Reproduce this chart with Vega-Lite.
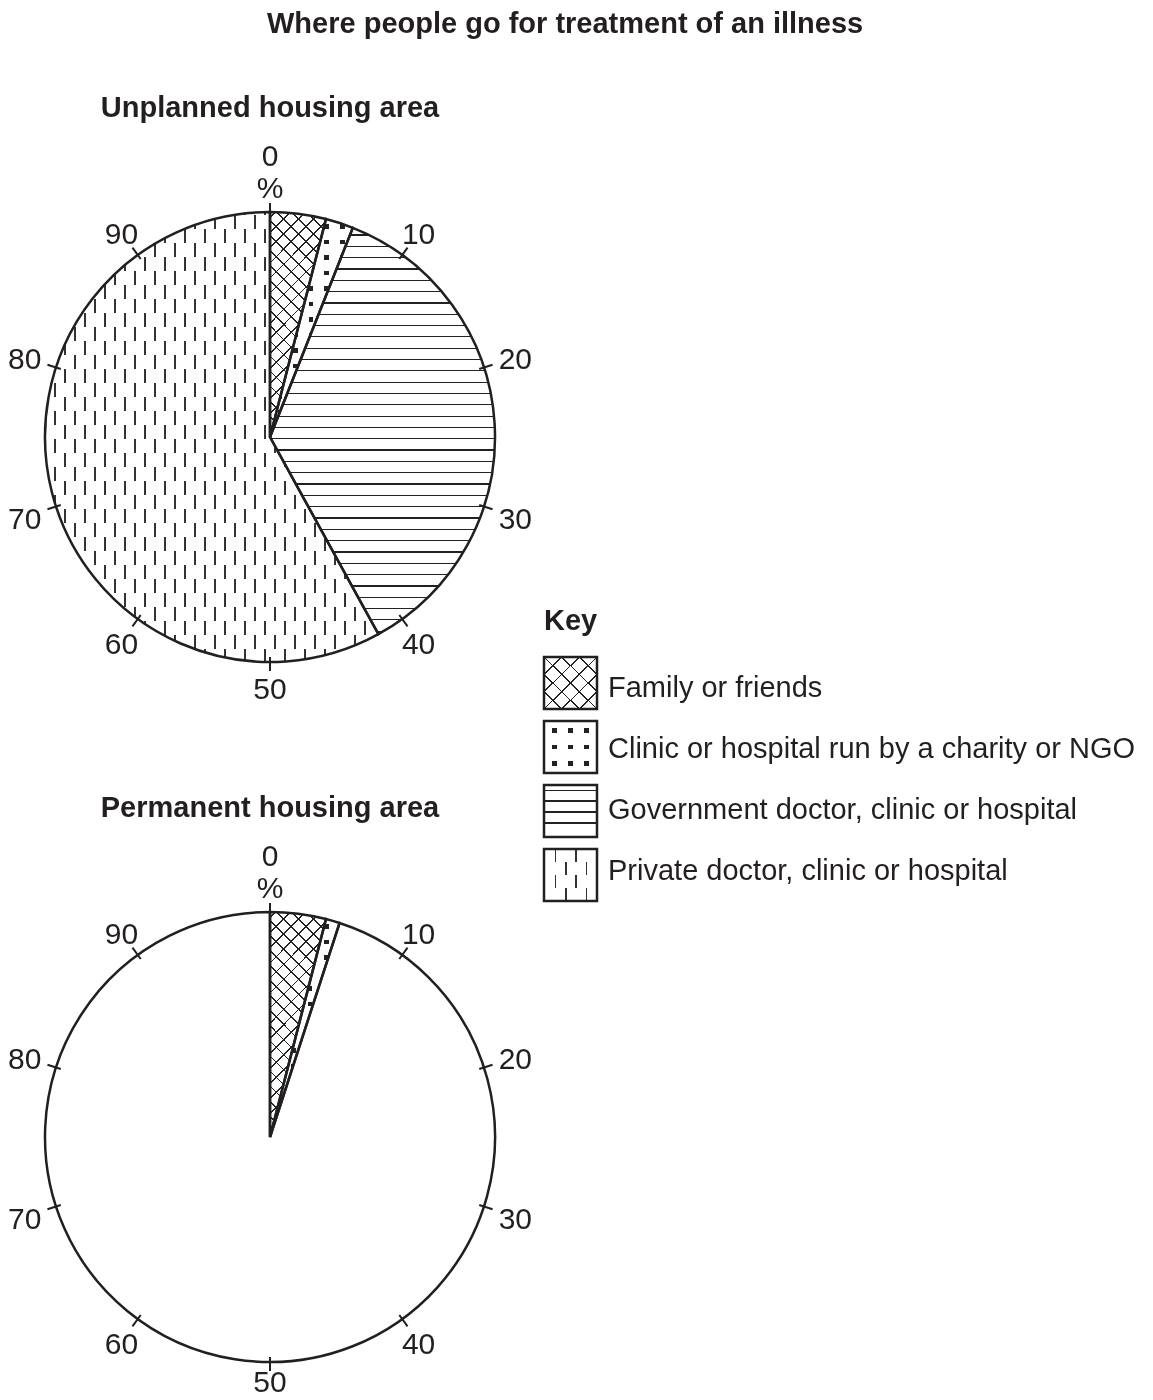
{
"$schema":"https://vega.github.io/schema/vega-lite/v6.json",
"background":"white",
"padding":{"left":0,"top":10,"right":0,"bottom":0},
"config":{"view":{"stroke":null},"font":"Liberation Sans","text":{"font":"Liberation Sans"},"title":{"font":"Liberation Sans","fontSize":29,"fontWeight":"bold","color":"#231f20"}},
"title":{"text":"Where people go for treatment of an illness","anchor":"start","frame":"group","dx":267,"offset":55},
"datasets":{
"unplanned":[{"category":"Family or friends","start":0,"end":4},{"category":"Clinic or hospital run by a charity or NGO","start":4,"end":6},{"category":"Government doctor, clinic or hospital","start":6,"end":42},{"category":"Private doctor, clinic or hospital","start":42,"end":100}],
"permanent":[{"category":"Family or friends","start":0,"end":4},{"category":"Clinic or hospital run by a charity or NGO","start":4,"end":5},{"category":"Not shown","start":5,"end":100}],
"ticks":[{"pct":0,"label":"0"},{"pct":10,"label":"10"},{"pct":20,"label":"20"},{"pct":30,"label":"30"},{"pct":40,"label":"40"},{"pct":50,"label":"50"},{"pct":60,"label":"60"},{"pct":70,"label":"70"},{"pct":80,"label":"80"},{"pct":90,"label":"90"}],
"unit":[{"pct":0,"label":"%"}],
"keyitems":[{"category":"Family or friends"},{"category":"Clinic or hospital run by a charity or NGO"},{"category":"Government doctor, clinic or hospital"},{"category":"Private doctor, clinic or hospital"}]
},
"bounds":"flush",
"spacing":544,
"hconcat":[
{"vconcat":[
{"width":540,"height":450,"title":{"text":"Unplanned housing area","anchor":"middle","frame":"group","offset":19},
"layer":[
{"data":{"name":"unplanned"},"transform":[{"filter":"datum.category == 'Family or friends'"}],"mark":{"type":"arc","radius":225,"fill":{"gradient":"linear","x1":0,"y1":1,"x2":0.3,"y2":-0.2,"stops":[{"offset":0,"color":"#fff"},{"offset":0.017,"color":"#fff"},{"offset":0.017,"color":"#222"},{"offset":0.023,"color":"#222"},{"offset":0.023,"color":"#fff"},{"offset":0.0695,"color":"#fff"},{"offset":0.0695,"color":"#222"},{"offset":0.0755,"color":"#222"},{"offset":0.0755,"color":"#fff"},{"offset":0.122,"color":"#fff"},{"offset":0.122,"color":"#222"},{"offset":0.128,"color":"#222"},{"offset":0.128,"color":"#fff"},{"offset":0.1745,"color":"#fff"},{"offset":0.1745,"color":"#222"},{"offset":0.1805,"color":"#222"},{"offset":0.1805,"color":"#fff"},{"offset":0.227,"color":"#fff"},{"offset":0.227,"color":"#222"},{"offset":0.233,"color":"#222"},{"offset":0.233,"color":"#fff"},{"offset":0.2795,"color":"#fff"},{"offset":0.2795,"color":"#222"},{"offset":0.2855,"color":"#222"},{"offset":0.2855,"color":"#fff"},{"offset":0.332,"color":"#fff"},{"offset":0.332,"color":"#222"},{"offset":0.338,"color":"#222"},{"offset":0.338,"color":"#fff"},{"offset":0.3845,"color":"#fff"},{"offset":0.3845,"color":"#222"},{"offset":0.3905,"color":"#222"},{"offset":0.3905,"color":"#fff"},{"offset":0.437,"color":"#fff"},{"offset":0.437,"color":"#222"},{"offset":0.443,"color":"#222"},{"offset":0.443,"color":"#fff"},{"offset":0.4895,"color":"#fff"},{"offset":0.4895,"color":"#222"},{"offset":0.4955,"color":"#222"},{"offset":0.4955,"color":"#fff"},{"offset":0.542,"color":"#fff"},{"offset":0.542,"color":"#222"},{"offset":0.548,"color":"#222"},{"offset":0.548,"color":"#fff"},{"offset":0.5945,"color":"#fff"},{"offset":0.5945,"color":"#222"},{"offset":0.6005,"color":"#222"},{"offset":0.6005,"color":"#fff"},{"offset":0.647,"color":"#fff"},{"offset":0.647,"color":"#222"},{"offset":0.653,"color":"#222"},{"offset":0.653,"color":"#fff"},{"offset":0.6995,"color":"#fff"},{"offset":0.6995,"color":"#222"},{"offset":0.7055,"color":"#222"},{"offset":0.7055,"color":"#fff"},{"offset":0.752,"color":"#fff"},{"offset":0.752,"color":"#222"},{"offset":0.758,"color":"#222"},{"offset":0.758,"color":"#fff"},{"offset":0.8045,"color":"#fff"},{"offset":0.8045,"color":"#222"},{"offset":0.8105,"color":"#222"},{"offset":0.8105,"color":"#fff"},{"offset":0.857,"color":"#fff"},{"offset":0.857,"color":"#222"},{"offset":0.863,"color":"#222"},{"offset":0.863,"color":"#fff"},{"offset":0.9095,"color":"#fff"},{"offset":0.9095,"color":"#222"},{"offset":0.9155,"color":"#222"},{"offset":0.9155,"color":"#fff"},{"offset":0.962,"color":"#fff"},{"offset":0.962,"color":"#222"},{"offset":0.968,"color":"#222"},{"offset":0.968,"color":"#fff"},{"offset":1,"color":"#fff"}]}},"encoding":{"theta":{"field":"start","type":"quantitative","stack":null,"scale":{"domain":[0,100],"range":[0,6.283185307179586]}},"theta2":{"field":"end"}}},
{"data":{"name":"unplanned"},"transform":[{"filter":"datum.category == 'Family or friends'"}],"mark":{"type":"arc","radius":225,"fill":{"gradient":"linear","x1":0,"y1":0,"x2":0.3,"y2":1.2,"stops":[{"offset":0,"color":"rgba(0,0,0,0)"},{"offset":0.017,"color":"rgba(0,0,0,0)"},{"offset":0.017,"color":"#222"},{"offset":0.023,"color":"#222"},{"offset":0.023,"color":"rgba(0,0,0,0)"},{"offset":0.0695,"color":"rgba(0,0,0,0)"},{"offset":0.0695,"color":"#222"},{"offset":0.0755,"color":"#222"},{"offset":0.0755,"color":"rgba(0,0,0,0)"},{"offset":0.122,"color":"rgba(0,0,0,0)"},{"offset":0.122,"color":"#222"},{"offset":0.128,"color":"#222"},{"offset":0.128,"color":"rgba(0,0,0,0)"},{"offset":0.1745,"color":"rgba(0,0,0,0)"},{"offset":0.1745,"color":"#222"},{"offset":0.1805,"color":"#222"},{"offset":0.1805,"color":"rgba(0,0,0,0)"},{"offset":0.227,"color":"rgba(0,0,0,0)"},{"offset":0.227,"color":"#222"},{"offset":0.233,"color":"#222"},{"offset":0.233,"color":"rgba(0,0,0,0)"},{"offset":0.2795,"color":"rgba(0,0,0,0)"},{"offset":0.2795,"color":"#222"},{"offset":0.2855,"color":"#222"},{"offset":0.2855,"color":"rgba(0,0,0,0)"},{"offset":0.332,"color":"rgba(0,0,0,0)"},{"offset":0.332,"color":"#222"},{"offset":0.338,"color":"#222"},{"offset":0.338,"color":"rgba(0,0,0,0)"},{"offset":0.3845,"color":"rgba(0,0,0,0)"},{"offset":0.3845,"color":"#222"},{"offset":0.3905,"color":"#222"},{"offset":0.3905,"color":"rgba(0,0,0,0)"},{"offset":0.437,"color":"rgba(0,0,0,0)"},{"offset":0.437,"color":"#222"},{"offset":0.443,"color":"#222"},{"offset":0.443,"color":"rgba(0,0,0,0)"},{"offset":0.4895,"color":"rgba(0,0,0,0)"},{"offset":0.4895,"color":"#222"},{"offset":0.4955,"color":"#222"},{"offset":0.4955,"color":"rgba(0,0,0,0)"},{"offset":0.542,"color":"rgba(0,0,0,0)"},{"offset":0.542,"color":"#222"},{"offset":0.548,"color":"#222"},{"offset":0.548,"color":"rgba(0,0,0,0)"},{"offset":0.5945,"color":"rgba(0,0,0,0)"},{"offset":0.5945,"color":"#222"},{"offset":0.6005,"color":"#222"},{"offset":0.6005,"color":"rgba(0,0,0,0)"},{"offset":0.647,"color":"rgba(0,0,0,0)"},{"offset":0.647,"color":"#222"},{"offset":0.653,"color":"#222"},{"offset":0.653,"color":"rgba(0,0,0,0)"},{"offset":0.6995,"color":"rgba(0,0,0,0)"},{"offset":0.6995,"color":"#222"},{"offset":0.7055,"color":"#222"},{"offset":0.7055,"color":"rgba(0,0,0,0)"},{"offset":0.752,"color":"rgba(0,0,0,0)"},{"offset":0.752,"color":"#222"},{"offset":0.758,"color":"#222"},{"offset":0.758,"color":"rgba(0,0,0,0)"},{"offset":0.8045,"color":"rgba(0,0,0,0)"},{"offset":0.8045,"color":"#222"},{"offset":0.8105,"color":"#222"},{"offset":0.8105,"color":"rgba(0,0,0,0)"},{"offset":0.857,"color":"rgba(0,0,0,0)"},{"offset":0.857,"color":"#222"},{"offset":0.863,"color":"#222"},{"offset":0.863,"color":"rgba(0,0,0,0)"},{"offset":0.9095,"color":"rgba(0,0,0,0)"},{"offset":0.9095,"color":"#222"},{"offset":0.9155,"color":"#222"},{"offset":0.9155,"color":"rgba(0,0,0,0)"},{"offset":0.962,"color":"rgba(0,0,0,0)"},{"offset":0.962,"color":"#222"},{"offset":0.968,"color":"#222"},{"offset":0.968,"color":"rgba(0,0,0,0)"},{"offset":1,"color":"rgba(0,0,0,0)"}]}},"encoding":{"theta":{"field":"start","type":"quantitative","stack":null,"scale":{"domain":[0,100],"range":[0,6.283185307179586]}},"theta2":{"field":"end"}}},
{"data":{"name":"unplanned"},"transform":[{"filter":"datum.category == 'Clinic or hospital run by a charity or NGO'"}],"mark":{"type":"arc","radius":225,"fill":{"gradient":"linear","x1":0,"y1":0,"x2":1,"y2":0,"stops":[{"offset":0,"color":"#fff"},{"offset":0.0924,"color":"#fff"},{"offset":0.0924,"color":"#222"},{"offset":0.1468,"color":"#222"},{"offset":0.1468,"color":"#fff"},{"offset":0.2808,"color":"#fff"},{"offset":0.2808,"color":"#222"},{"offset":0.3352,"color":"#222"},{"offset":0.3352,"color":"#fff"},{"offset":0.4692,"color":"#fff"},{"offset":0.4692,"color":"#222"},{"offset":0.5236,"color":"#222"},{"offset":0.5236,"color":"#fff"},{"offset":0.6576,"color":"#fff"},{"offset":0.6576,"color":"#222"},{"offset":0.712,"color":"#222"},{"offset":0.712,"color":"#fff"},{"offset":0.846,"color":"#fff"},{"offset":0.846,"color":"#222"},{"offset":0.9004,"color":"#222"},{"offset":0.9004,"color":"#fff"},{"offset":1,"color":"#fff"}]}},"encoding":{"theta":{"field":"start","type":"quantitative","stack":null,"scale":{"domain":[0,100],"range":[0,6.283185307179586]}},"theta2":{"field":"end"}}},
{"data":{"name":"unplanned"},"transform":[{"filter":"datum.category == 'Clinic or hospital run by a charity or NGO'"}],"mark":{"type":"arc","radius":225,"blend":"lighten","fill":{"gradient":"linear","x1":0,"y1":0,"x2":0,"y2":1,"stops":[{"offset":0,"color":"#fff"},{"offset":0.0246,"color":"#fff"},{"offset":0.0246,"color":"#000"},{"offset":0.0452,"color":"#000"},{"offset":0.0452,"color":"#fff"},{"offset":0.0957,"color":"#fff"},{"offset":0.0957,"color":"#000"},{"offset":0.1163,"color":"#000"},{"offset":0.1163,"color":"#fff"},{"offset":0.1668,"color":"#fff"},{"offset":0.1668,"color":"#000"},{"offset":0.1874,"color":"#000"},{"offset":0.1874,"color":"#fff"},{"offset":0.238,"color":"#fff"},{"offset":0.238,"color":"#000"},{"offset":0.2586,"color":"#000"},{"offset":0.2586,"color":"#fff"},{"offset":0.3091,"color":"#fff"},{"offset":0.3091,"color":"#000"},{"offset":0.3297,"color":"#000"},{"offset":0.3297,"color":"#fff"},{"offset":0.3802,"color":"#fff"},{"offset":0.3802,"color":"#000"},{"offset":0.4008,"color":"#000"},{"offset":0.4008,"color":"#fff"},{"offset":0.4514,"color":"#fff"},{"offset":0.4514,"color":"#000"},{"offset":0.472,"color":"#000"},{"offset":0.472,"color":"#fff"},{"offset":0.5225,"color":"#fff"},{"offset":0.5225,"color":"#000"},{"offset":0.5431,"color":"#000"},{"offset":0.5431,"color":"#fff"},{"offset":0.5936,"color":"#fff"},{"offset":0.5936,"color":"#000"},{"offset":0.6142,"color":"#000"},{"offset":0.6142,"color":"#fff"},{"offset":0.6648,"color":"#fff"},{"offset":0.6648,"color":"#000"},{"offset":0.6854,"color":"#000"},{"offset":0.6854,"color":"#fff"},{"offset":0.7359,"color":"#fff"},{"offset":0.7359,"color":"#000"},{"offset":0.7565,"color":"#000"},{"offset":0.7565,"color":"#fff"},{"offset":0.807,"color":"#fff"},{"offset":0.807,"color":"#000"},{"offset":0.8276,"color":"#000"},{"offset":0.8276,"color":"#fff"},{"offset":0.8782,"color":"#fff"},{"offset":0.8782,"color":"#000"},{"offset":0.8988,"color":"#000"},{"offset":0.8988,"color":"#fff"},{"offset":0.9493,"color":"#fff"},{"offset":0.9493,"color":"#000"},{"offset":0.9699,"color":"#000"},{"offset":0.9699,"color":"#fff"},{"offset":1,"color":"#fff"}]}},"encoding":{"theta":{"field":"start","type":"quantitative","stack":null,"scale":{"domain":[0,100],"range":[0,6.283185307179586]}},"theta2":{"field":"end"}}},
{"data":{"name":"unplanned"},"transform":[{"filter":"datum.category == 'Government doctor, clinic or hospital'"}],"mark":{"type":"arc","radius":225,"fill":{"gradient":"linear","x1":0,"y1":0,"x2":0,"y2":1,"stops":[{"offset":0,"color":"#fff"},{"offset":0.0162,"color":"#fff"},{"offset":0.0162,"color":"#222"},{"offset":0.0192,"color":"#222"},{"offset":0.0192,"color":"#fff"},{"offset":0.0441,"color":"#fff"},{"offset":0.0441,"color":"#222"},{"offset":0.0471,"color":"#222"},{"offset":0.0471,"color":"#fff"},{"offset":0.0719,"color":"#fff"},{"offset":0.0719,"color":"#222"},{"offset":0.0749,"color":"#222"},{"offset":0.0749,"color":"#fff"},{"offset":0.0998,"color":"#fff"},{"offset":0.0998,"color":"#222"},{"offset":0.1028,"color":"#222"},{"offset":0.1028,"color":"#fff"},{"offset":0.1276,"color":"#fff"},{"offset":0.1276,"color":"#222"},{"offset":0.1306,"color":"#222"},{"offset":0.1306,"color":"#fff"},{"offset":0.1555,"color":"#fff"},{"offset":0.1555,"color":"#222"},{"offset":0.1585,"color":"#222"},{"offset":0.1585,"color":"#fff"},{"offset":0.1833,"color":"#fff"},{"offset":0.1833,"color":"#222"},{"offset":0.1863,"color":"#222"},{"offset":0.1863,"color":"#fff"},{"offset":0.2112,"color":"#fff"},{"offset":0.2112,"color":"#222"},{"offset":0.2142,"color":"#222"},{"offset":0.2142,"color":"#fff"},{"offset":0.2391,"color":"#fff"},{"offset":0.2391,"color":"#222"},{"offset":0.2421,"color":"#222"},{"offset":0.2421,"color":"#fff"},{"offset":0.2669,"color":"#fff"},{"offset":0.2669,"color":"#222"},{"offset":0.2699,"color":"#222"},{"offset":0.2699,"color":"#fff"},{"offset":0.2948,"color":"#fff"},{"offset":0.2948,"color":"#222"},{"offset":0.2978,"color":"#222"},{"offset":0.2978,"color":"#fff"},{"offset":0.3226,"color":"#fff"},{"offset":0.3226,"color":"#222"},{"offset":0.3256,"color":"#222"},{"offset":0.3256,"color":"#fff"},{"offset":0.3505,"color":"#fff"},{"offset":0.3505,"color":"#222"},{"offset":0.3535,"color":"#222"},{"offset":0.3535,"color":"#fff"},{"offset":0.3783,"color":"#fff"},{"offset":0.3783,"color":"#222"},{"offset":0.3813,"color":"#222"},{"offset":0.3813,"color":"#fff"},{"offset":0.4062,"color":"#fff"},{"offset":0.4062,"color":"#222"},{"offset":0.4092,"color":"#222"},{"offset":0.4092,"color":"#fff"},{"offset":0.434,"color":"#fff"},{"offset":0.434,"color":"#222"},{"offset":0.437,"color":"#222"},{"offset":0.437,"color":"#fff"},{"offset":0.4619,"color":"#fff"},{"offset":0.4619,"color":"#222"},{"offset":0.4649,"color":"#222"},{"offset":0.4649,"color":"#fff"},{"offset":0.4897,"color":"#fff"},{"offset":0.4897,"color":"#222"},{"offset":0.4927,"color":"#222"},{"offset":0.4927,"color":"#fff"},{"offset":0.5176,"color":"#fff"},{"offset":0.5176,"color":"#222"},{"offset":0.5206,"color":"#222"},{"offset":0.5206,"color":"#fff"},{"offset":0.5455,"color":"#fff"},{"offset":0.5455,"color":"#222"},{"offset":0.5485,"color":"#222"},{"offset":0.5485,"color":"#fff"},{"offset":0.5733,"color":"#fff"},{"offset":0.5733,"color":"#222"},{"offset":0.5763,"color":"#222"},{"offset":0.5763,"color":"#fff"},{"offset":0.6012,"color":"#fff"},{"offset":0.6012,"color":"#222"},{"offset":0.6042,"color":"#222"},{"offset":0.6042,"color":"#fff"},{"offset":0.629,"color":"#fff"},{"offset":0.629,"color":"#222"},{"offset":0.632,"color":"#222"},{"offset":0.632,"color":"#fff"},{"offset":0.6569,"color":"#fff"},{"offset":0.6569,"color":"#222"},{"offset":0.6599,"color":"#222"},{"offset":0.6599,"color":"#fff"},{"offset":0.6847,"color":"#fff"},{"offset":0.6847,"color":"#222"},{"offset":0.6877,"color":"#222"},{"offset":0.6877,"color":"#fff"},{"offset":0.7126,"color":"#fff"},{"offset":0.7126,"color":"#222"},{"offset":0.7156,"color":"#222"},{"offset":0.7156,"color":"#fff"},{"offset":0.7404,"color":"#fff"},{"offset":0.7404,"color":"#222"},{"offset":0.7434,"color":"#222"},{"offset":0.7434,"color":"#fff"},{"offset":0.7683,"color":"#fff"},{"offset":0.7683,"color":"#222"},{"offset":0.7713,"color":"#222"},{"offset":0.7713,"color":"#fff"},{"offset":0.7961,"color":"#fff"},{"offset":0.7961,"color":"#222"},{"offset":0.7991,"color":"#222"},{"offset":0.7991,"color":"#fff"},{"offset":0.824,"color":"#fff"},{"offset":0.824,"color":"#222"},{"offset":0.827,"color":"#222"},{"offset":0.827,"color":"#fff"},{"offset":0.8519,"color":"#fff"},{"offset":0.8519,"color":"#222"},{"offset":0.8549,"color":"#222"},{"offset":0.8549,"color":"#fff"},{"offset":0.8797,"color":"#fff"},{"offset":0.8797,"color":"#222"},{"offset":0.8827,"color":"#222"},{"offset":0.8827,"color":"#fff"},{"offset":0.9076,"color":"#fff"},{"offset":0.9076,"color":"#222"},{"offset":0.9106,"color":"#222"},{"offset":0.9106,"color":"#fff"},{"offset":0.9354,"color":"#fff"},{"offset":0.9354,"color":"#222"},{"offset":0.9384,"color":"#222"},{"offset":0.9384,"color":"#fff"},{"offset":0.9633,"color":"#fff"},{"offset":0.9633,"color":"#222"},{"offset":0.9663,"color":"#222"},{"offset":0.9663,"color":"#fff"},{"offset":0.9911,"color":"#fff"},{"offset":0.9911,"color":"#222"},{"offset":0.9941,"color":"#222"},{"offset":0.9941,"color":"#fff"},{"offset":1,"color":"#fff"}]}},"encoding":{"theta":{"field":"start","type":"quantitative","stack":null,"scale":{"domain":[0,100],"range":[0,6.283185307179586]}},"theta2":{"field":"end"}}},
{"data":{"name":"unplanned"},"transform":[{"filter":"datum.category == 'Private doctor, clinic or hospital'"}],"mark":{"type":"arc","radius":225,"fill":{"gradient":"linear","x1":0,"y1":0,"x2":0,"y2":1,"stops":[{"offset":0,"color":"#000"},{"offset":0.0067,"color":"#000"},{"offset":0.0067,"color":"#fff"},{"offset":0.0378,"color":"#fff"},{"offset":0.0378,"color":"#000"},{"offset":0.0689,"color":"#000"},{"offset":0.0689,"color":"#fff"},{"offset":0.1,"color":"#fff"},{"offset":0.1,"color":"#000"},{"offset":0.1311,"color":"#000"},{"offset":0.1311,"color":"#fff"},{"offset":0.1622,"color":"#fff"},{"offset":0.1622,"color":"#000"},{"offset":0.1933,"color":"#000"},{"offset":0.1933,"color":"#fff"},{"offset":0.2244,"color":"#fff"},{"offset":0.2244,"color":"#000"},{"offset":0.2556,"color":"#000"},{"offset":0.2556,"color":"#fff"},{"offset":0.2867,"color":"#fff"},{"offset":0.2867,"color":"#000"},{"offset":0.3178,"color":"#000"},{"offset":0.3178,"color":"#fff"},{"offset":0.3489,"color":"#fff"},{"offset":0.3489,"color":"#000"},{"offset":0.38,"color":"#000"},{"offset":0.38,"color":"#fff"},{"offset":0.4111,"color":"#fff"},{"offset":0.4111,"color":"#000"},{"offset":0.4422,"color":"#000"},{"offset":0.4422,"color":"#fff"},{"offset":0.4733,"color":"#fff"},{"offset":0.4733,"color":"#000"},{"offset":0.5044,"color":"#000"},{"offset":0.5044,"color":"#fff"},{"offset":0.5356,"color":"#fff"},{"offset":0.5356,"color":"#000"},{"offset":0.5667,"color":"#000"},{"offset":0.5667,"color":"#fff"},{"offset":0.5978,"color":"#fff"},{"offset":0.5978,"color":"#000"},{"offset":0.6289,"color":"#000"},{"offset":0.6289,"color":"#fff"},{"offset":0.66,"color":"#fff"},{"offset":0.66,"color":"#000"},{"offset":0.6911,"color":"#000"},{"offset":0.6911,"color":"#fff"},{"offset":0.7222,"color":"#fff"},{"offset":0.7222,"color":"#000"},{"offset":0.7533,"color":"#000"},{"offset":0.7533,"color":"#fff"},{"offset":0.7844,"color":"#fff"},{"offset":0.7844,"color":"#000"},{"offset":0.8156,"color":"#000"},{"offset":0.8156,"color":"#fff"},{"offset":0.8467,"color":"#fff"},{"offset":0.8467,"color":"#000"},{"offset":0.8778,"color":"#000"},{"offset":0.8778,"color":"#fff"},{"offset":0.9089,"color":"#fff"},{"offset":0.9089,"color":"#000"},{"offset":0.94,"color":"#000"},{"offset":0.94,"color":"#fff"},{"offset":0.9711,"color":"#fff"},{"offset":0.9711,"color":"#000"},{"offset":1,"color":"#000"}]}},"encoding":{"theta":{"field":"start","type":"quantitative","stack":null,"scale":{"domain":[0,100],"range":[0,6.283185307179586]}},"theta2":{"field":"end"}}},
{"data":{"name":"unplanned"},"transform":[{"filter":"datum.category == 'Private doctor, clinic or hospital'"}],"mark":{"type":"arc","radius":225,"blend":"difference","fill":{"gradient":"linear","x1":0,"y1":0,"x2":1,"y2":0,"stops":[{"offset":0,"color":"#000"},{"offset":0.015,"color":"#000"},{"offset":0.015,"color":"#fff"},{"offset":0.045,"color":"#fff"},{"offset":0.045,"color":"#000"},{"offset":0.075,"color":"#000"},{"offset":0.075,"color":"#fff"},{"offset":0.105,"color":"#fff"},{"offset":0.105,"color":"#000"},{"offset":0.135,"color":"#000"},{"offset":0.135,"color":"#fff"},{"offset":0.165,"color":"#fff"},{"offset":0.165,"color":"#000"},{"offset":0.195,"color":"#000"},{"offset":0.195,"color":"#fff"},{"offset":0.225,"color":"#fff"},{"offset":0.225,"color":"#000"},{"offset":0.2549,"color":"#000"},{"offset":0.2549,"color":"#fff"},{"offset":0.2849,"color":"#fff"},{"offset":0.2849,"color":"#000"},{"offset":0.3149,"color":"#000"},{"offset":0.3149,"color":"#fff"},{"offset":0.3449,"color":"#fff"},{"offset":0.3449,"color":"#000"},{"offset":0.3749,"color":"#000"},{"offset":0.3749,"color":"#fff"},{"offset":0.4049,"color":"#fff"},{"offset":0.4049,"color":"#000"},{"offset":0.4349,"color":"#000"},{"offset":0.4349,"color":"#fff"},{"offset":0.4649,"color":"#fff"},{"offset":0.4649,"color":"#000"},{"offset":0.4949,"color":"#000"},{"offset":0.4949,"color":"#fff"},{"offset":0.5249,"color":"#fff"},{"offset":0.5249,"color":"#000"},{"offset":0.5549,"color":"#000"},{"offset":0.5549,"color":"#fff"},{"offset":0.5849,"color":"#fff"},{"offset":0.5849,"color":"#000"},{"offset":0.6149,"color":"#000"},{"offset":0.6149,"color":"#fff"},{"offset":0.6449,"color":"#fff"},{"offset":0.6449,"color":"#000"},{"offset":0.6749,"color":"#000"},{"offset":0.6749,"color":"#fff"},{"offset":0.7049,"color":"#fff"},{"offset":0.7049,"color":"#000"},{"offset":0.7349,"color":"#000"},{"offset":0.7349,"color":"#fff"},{"offset":0.7648,"color":"#fff"},{"offset":0.7648,"color":"#000"},{"offset":0.7948,"color":"#000"},{"offset":0.7948,"color":"#fff"},{"offset":0.8248,"color":"#fff"},{"offset":0.8248,"color":"#000"},{"offset":0.8548,"color":"#000"},{"offset":0.8548,"color":"#fff"},{"offset":0.8848,"color":"#fff"},{"offset":0.8848,"color":"#000"},{"offset":0.9148,"color":"#000"},{"offset":0.9148,"color":"#fff"},{"offset":0.9448,"color":"#fff"},{"offset":0.9448,"color":"#000"},{"offset":0.9748,"color":"#000"},{"offset":0.9748,"color":"#fff"},{"offset":1,"color":"#fff"}]}},"encoding":{"theta":{"field":"start","type":"quantitative","stack":null,"scale":{"domain":[0,100],"range":[0,6.283185307179586]}},"theta2":{"field":"end"}}},
{"data":{"name":"unplanned"},"transform":[{"filter":"datum.category == 'Private doctor, clinic or hospital'"}],"mark":{"type":"arc","radius":225,"blend":"lighten","fill":{"gradient":"linear","x1":0,"y1":0,"x2":1,"y2":0,"stops":[{"offset":0,"color":"#fff"},{"offset":0.0279,"color":"#fff"},{"offset":0.0279,"color":"#333"},{"offset":0.0321,"color":"#333"},{"offset":0.0321,"color":"#fff"},{"offset":0.0579,"color":"#fff"},{"offset":0.0579,"color":"#333"},{"offset":0.0621,"color":"#333"},{"offset":0.0621,"color":"#fff"},{"offset":0.0879,"color":"#fff"},{"offset":0.0879,"color":"#333"},{"offset":0.0921,"color":"#333"},{"offset":0.0921,"color":"#fff"},{"offset":0.1179,"color":"#fff"},{"offset":0.1179,"color":"#333"},{"offset":0.1221,"color":"#333"},{"offset":0.1221,"color":"#fff"},{"offset":0.1479,"color":"#fff"},{"offset":0.1479,"color":"#333"},{"offset":0.1521,"color":"#333"},{"offset":0.1521,"color":"#fff"},{"offset":0.1779,"color":"#fff"},{"offset":0.1779,"color":"#333"},{"offset":0.1821,"color":"#333"},{"offset":0.1821,"color":"#fff"},{"offset":0.2079,"color":"#fff"},{"offset":0.2079,"color":"#333"},{"offset":0.2121,"color":"#333"},{"offset":0.2121,"color":"#fff"},{"offset":0.2379,"color":"#fff"},{"offset":0.2379,"color":"#333"},{"offset":0.2421,"color":"#333"},{"offset":0.2421,"color":"#fff"},{"offset":0.2678,"color":"#fff"},{"offset":0.2678,"color":"#333"},{"offset":0.272,"color":"#333"},{"offset":0.272,"color":"#fff"},{"offset":0.2978,"color":"#fff"},{"offset":0.2978,"color":"#333"},{"offset":0.302,"color":"#333"},{"offset":0.302,"color":"#fff"},{"offset":0.3278,"color":"#fff"},{"offset":0.3278,"color":"#333"},{"offset":0.332,"color":"#333"},{"offset":0.332,"color":"#fff"},{"offset":0.3578,"color":"#fff"},{"offset":0.3578,"color":"#333"},{"offset":0.362,"color":"#333"},{"offset":0.362,"color":"#fff"},{"offset":0.3878,"color":"#fff"},{"offset":0.3878,"color":"#333"},{"offset":0.392,"color":"#333"},{"offset":0.392,"color":"#fff"},{"offset":0.4178,"color":"#fff"},{"offset":0.4178,"color":"#333"},{"offset":0.422,"color":"#333"},{"offset":0.422,"color":"#fff"},{"offset":0.4478,"color":"#fff"},{"offset":0.4478,"color":"#333"},{"offset":0.452,"color":"#333"},{"offset":0.452,"color":"#fff"},{"offset":0.4778,"color":"#fff"},{"offset":0.4778,"color":"#333"},{"offset":0.482,"color":"#333"},{"offset":0.482,"color":"#fff"},{"offset":0.5078,"color":"#fff"},{"offset":0.5078,"color":"#333"},{"offset":0.512,"color":"#333"},{"offset":0.512,"color":"#fff"},{"offset":0.5378,"color":"#fff"},{"offset":0.5378,"color":"#333"},{"offset":0.542,"color":"#333"},{"offset":0.542,"color":"#fff"},{"offset":0.5678,"color":"#fff"},{"offset":0.5678,"color":"#333"},{"offset":0.572,"color":"#333"},{"offset":0.572,"color":"#fff"},{"offset":0.5978,"color":"#fff"},{"offset":0.5978,"color":"#333"},{"offset":0.602,"color":"#333"},{"offset":0.602,"color":"#fff"},{"offset":0.6278,"color":"#fff"},{"offset":0.6278,"color":"#333"},{"offset":0.632,"color":"#333"},{"offset":0.632,"color":"#fff"},{"offset":0.6578,"color":"#fff"},{"offset":0.6578,"color":"#333"},{"offset":0.662,"color":"#333"},{"offset":0.662,"color":"#fff"},{"offset":0.6878,"color":"#fff"},{"offset":0.6878,"color":"#333"},{"offset":0.692,"color":"#333"},{"offset":0.692,"color":"#fff"},{"offset":0.7178,"color":"#fff"},{"offset":0.7178,"color":"#333"},{"offset":0.722,"color":"#333"},{"offset":0.722,"color":"#fff"},{"offset":0.7478,"color":"#fff"},{"offset":0.7478,"color":"#333"},{"offset":0.752,"color":"#333"},{"offset":0.752,"color":"#fff"},{"offset":0.7777,"color":"#fff"},{"offset":0.7777,"color":"#333"},{"offset":0.7819,"color":"#333"},{"offset":0.7819,"color":"#fff"},{"offset":0.8077,"color":"#fff"},{"offset":0.8077,"color":"#333"},{"offset":0.8119,"color":"#333"},{"offset":0.8119,"color":"#fff"},{"offset":0.8377,"color":"#fff"},{"offset":0.8377,"color":"#333"},{"offset":0.8419,"color":"#333"},{"offset":0.8419,"color":"#fff"},{"offset":0.8677,"color":"#fff"},{"offset":0.8677,"color":"#333"},{"offset":0.8719,"color":"#333"},{"offset":0.8719,"color":"#fff"},{"offset":0.8977,"color":"#fff"},{"offset":0.8977,"color":"#333"},{"offset":0.9019,"color":"#333"},{"offset":0.9019,"color":"#fff"},{"offset":0.9277,"color":"#fff"},{"offset":0.9277,"color":"#333"},{"offset":0.9319,"color":"#333"},{"offset":0.9319,"color":"#fff"},{"offset":0.9577,"color":"#fff"},{"offset":0.9577,"color":"#333"},{"offset":0.9619,"color":"#333"},{"offset":0.9619,"color":"#fff"},{"offset":0.9877,"color":"#fff"},{"offset":0.9877,"color":"#333"},{"offset":0.9919,"color":"#333"},{"offset":0.9919,"color":"#fff"},{"offset":1,"color":"#fff"}]}},"encoding":{"theta":{"field":"start","type":"quantitative","stack":null,"scale":{"domain":[0,100],"range":[0,6.283185307179586]}},"theta2":{"field":"end"}}},
{"data":{"name":"unplanned"},"mark":{"type":"arc","radius":225,"filled":false,"stroke":"#231f20","strokeWidth":2.5},"encoding":{"theta":{"field":"start","type":"quantitative","stack":null,"scale":{"domain":[0,100],"range":[0,6.283185307179586]}},"theta2":{"field":"end"}}},
{"data":{"name":"ticks"},"mark":{"type":"arc","radius":234,"radius2":220,"filled":false,"stroke":"#231f20","strokeWidth":2},"encoding":{"theta":{"field":"pct","type":"quantitative","stack":null,"scale":{"domain":[0,100],"range":[0,6.283185307179586]}},"theta2":{"field":"pct"}}},
{"data":{"name":"ticks"},"mark":{"type":"text","fontSize":30,"color":"#231f20","align":"center","baseline":"middle","dy":{"expr":"datum.pct == 0 ? 0 : 3"},"radius":{"expr":"datum.pct == 0 ? 280 : 238 + min(19/abs(sin(datum.pct*PI/50)), 12/abs(cos(datum.pct*PI/50)))"}},"encoding":{"theta":{"field":"pct","type":"quantitative","stack":null,"scale":{"domain":[0,100],"range":[0,6.283185307179586]}},"text":{"field":"label"}}},
{"data":{"name":"unit"},"mark":{"type":"text","fontSize":30,"color":"#231f20","align":"center","baseline":"middle","dy":1,"radius":249},"encoding":{"theta":{"field":"pct","type":"quantitative","stack":null,"scale":{"domain":[0,100],"range":[0,6.283185307179586]}},"text":{"field":"label"}}}
]},
{"width":540,"height":450,"title":{"text":"Permanent housing area","anchor":"middle","frame":"group","offset":19},
"layer":[
{"data":{"name":"permanent"},"transform":[{"filter":"datum.category == 'Family or friends'"}],"mark":{"type":"arc","radius":225,"fill":{"gradient":"linear","x1":0,"y1":1,"x2":0.3,"y2":-0.2,"stops":[{"offset":0,"color":"#fff"},{"offset":0.017,"color":"#fff"},{"offset":0.017,"color":"#222"},{"offset":0.023,"color":"#222"},{"offset":0.023,"color":"#fff"},{"offset":0.0695,"color":"#fff"},{"offset":0.0695,"color":"#222"},{"offset":0.0755,"color":"#222"},{"offset":0.0755,"color":"#fff"},{"offset":0.122,"color":"#fff"},{"offset":0.122,"color":"#222"},{"offset":0.128,"color":"#222"},{"offset":0.128,"color":"#fff"},{"offset":0.1745,"color":"#fff"},{"offset":0.1745,"color":"#222"},{"offset":0.1805,"color":"#222"},{"offset":0.1805,"color":"#fff"},{"offset":0.227,"color":"#fff"},{"offset":0.227,"color":"#222"},{"offset":0.233,"color":"#222"},{"offset":0.233,"color":"#fff"},{"offset":0.2795,"color":"#fff"},{"offset":0.2795,"color":"#222"},{"offset":0.2855,"color":"#222"},{"offset":0.2855,"color":"#fff"},{"offset":0.332,"color":"#fff"},{"offset":0.332,"color":"#222"},{"offset":0.338,"color":"#222"},{"offset":0.338,"color":"#fff"},{"offset":0.3845,"color":"#fff"},{"offset":0.3845,"color":"#222"},{"offset":0.3905,"color":"#222"},{"offset":0.3905,"color":"#fff"},{"offset":0.437,"color":"#fff"},{"offset":0.437,"color":"#222"},{"offset":0.443,"color":"#222"},{"offset":0.443,"color":"#fff"},{"offset":0.4895,"color":"#fff"},{"offset":0.4895,"color":"#222"},{"offset":0.4955,"color":"#222"},{"offset":0.4955,"color":"#fff"},{"offset":0.542,"color":"#fff"},{"offset":0.542,"color":"#222"},{"offset":0.548,"color":"#222"},{"offset":0.548,"color":"#fff"},{"offset":0.5945,"color":"#fff"},{"offset":0.5945,"color":"#222"},{"offset":0.6005,"color":"#222"},{"offset":0.6005,"color":"#fff"},{"offset":0.647,"color":"#fff"},{"offset":0.647,"color":"#222"},{"offset":0.653,"color":"#222"},{"offset":0.653,"color":"#fff"},{"offset":0.6995,"color":"#fff"},{"offset":0.6995,"color":"#222"},{"offset":0.7055,"color":"#222"},{"offset":0.7055,"color":"#fff"},{"offset":0.752,"color":"#fff"},{"offset":0.752,"color":"#222"},{"offset":0.758,"color":"#222"},{"offset":0.758,"color":"#fff"},{"offset":0.8045,"color":"#fff"},{"offset":0.8045,"color":"#222"},{"offset":0.8105,"color":"#222"},{"offset":0.8105,"color":"#fff"},{"offset":0.857,"color":"#fff"},{"offset":0.857,"color":"#222"},{"offset":0.863,"color":"#222"},{"offset":0.863,"color":"#fff"},{"offset":0.9095,"color":"#fff"},{"offset":0.9095,"color":"#222"},{"offset":0.9155,"color":"#222"},{"offset":0.9155,"color":"#fff"},{"offset":0.962,"color":"#fff"},{"offset":0.962,"color":"#222"},{"offset":0.968,"color":"#222"},{"offset":0.968,"color":"#fff"},{"offset":1,"color":"#fff"}]}},"encoding":{"theta":{"field":"start","type":"quantitative","stack":null,"scale":{"domain":[0,100],"range":[0,6.283185307179586]}},"theta2":{"field":"end"}}},
{"data":{"name":"permanent"},"transform":[{"filter":"datum.category == 'Family or friends'"}],"mark":{"type":"arc","radius":225,"fill":{"gradient":"linear","x1":0,"y1":0,"x2":0.3,"y2":1.2,"stops":[{"offset":0,"color":"rgba(0,0,0,0)"},{"offset":0.017,"color":"rgba(0,0,0,0)"},{"offset":0.017,"color":"#222"},{"offset":0.023,"color":"#222"},{"offset":0.023,"color":"rgba(0,0,0,0)"},{"offset":0.0695,"color":"rgba(0,0,0,0)"},{"offset":0.0695,"color":"#222"},{"offset":0.0755,"color":"#222"},{"offset":0.0755,"color":"rgba(0,0,0,0)"},{"offset":0.122,"color":"rgba(0,0,0,0)"},{"offset":0.122,"color":"#222"},{"offset":0.128,"color":"#222"},{"offset":0.128,"color":"rgba(0,0,0,0)"},{"offset":0.1745,"color":"rgba(0,0,0,0)"},{"offset":0.1745,"color":"#222"},{"offset":0.1805,"color":"#222"},{"offset":0.1805,"color":"rgba(0,0,0,0)"},{"offset":0.227,"color":"rgba(0,0,0,0)"},{"offset":0.227,"color":"#222"},{"offset":0.233,"color":"#222"},{"offset":0.233,"color":"rgba(0,0,0,0)"},{"offset":0.2795,"color":"rgba(0,0,0,0)"},{"offset":0.2795,"color":"#222"},{"offset":0.2855,"color":"#222"},{"offset":0.2855,"color":"rgba(0,0,0,0)"},{"offset":0.332,"color":"rgba(0,0,0,0)"},{"offset":0.332,"color":"#222"},{"offset":0.338,"color":"#222"},{"offset":0.338,"color":"rgba(0,0,0,0)"},{"offset":0.3845,"color":"rgba(0,0,0,0)"},{"offset":0.3845,"color":"#222"},{"offset":0.3905,"color":"#222"},{"offset":0.3905,"color":"rgba(0,0,0,0)"},{"offset":0.437,"color":"rgba(0,0,0,0)"},{"offset":0.437,"color":"#222"},{"offset":0.443,"color":"#222"},{"offset":0.443,"color":"rgba(0,0,0,0)"},{"offset":0.4895,"color":"rgba(0,0,0,0)"},{"offset":0.4895,"color":"#222"},{"offset":0.4955,"color":"#222"},{"offset":0.4955,"color":"rgba(0,0,0,0)"},{"offset":0.542,"color":"rgba(0,0,0,0)"},{"offset":0.542,"color":"#222"},{"offset":0.548,"color":"#222"},{"offset":0.548,"color":"rgba(0,0,0,0)"},{"offset":0.5945,"color":"rgba(0,0,0,0)"},{"offset":0.5945,"color":"#222"},{"offset":0.6005,"color":"#222"},{"offset":0.6005,"color":"rgba(0,0,0,0)"},{"offset":0.647,"color":"rgba(0,0,0,0)"},{"offset":0.647,"color":"#222"},{"offset":0.653,"color":"#222"},{"offset":0.653,"color":"rgba(0,0,0,0)"},{"offset":0.6995,"color":"rgba(0,0,0,0)"},{"offset":0.6995,"color":"#222"},{"offset":0.7055,"color":"#222"},{"offset":0.7055,"color":"rgba(0,0,0,0)"},{"offset":0.752,"color":"rgba(0,0,0,0)"},{"offset":0.752,"color":"#222"},{"offset":0.758,"color":"#222"},{"offset":0.758,"color":"rgba(0,0,0,0)"},{"offset":0.8045,"color":"rgba(0,0,0,0)"},{"offset":0.8045,"color":"#222"},{"offset":0.8105,"color":"#222"},{"offset":0.8105,"color":"rgba(0,0,0,0)"},{"offset":0.857,"color":"rgba(0,0,0,0)"},{"offset":0.857,"color":"#222"},{"offset":0.863,"color":"#222"},{"offset":0.863,"color":"rgba(0,0,0,0)"},{"offset":0.9095,"color":"rgba(0,0,0,0)"},{"offset":0.9095,"color":"#222"},{"offset":0.9155,"color":"#222"},{"offset":0.9155,"color":"rgba(0,0,0,0)"},{"offset":0.962,"color":"rgba(0,0,0,0)"},{"offset":0.962,"color":"#222"},{"offset":0.968,"color":"#222"},{"offset":0.968,"color":"rgba(0,0,0,0)"},{"offset":1,"color":"rgba(0,0,0,0)"}]}},"encoding":{"theta":{"field":"start","type":"quantitative","stack":null,"scale":{"domain":[0,100],"range":[0,6.283185307179586]}},"theta2":{"field":"end"}}},
{"data":{"name":"permanent"},"transform":[{"filter":"datum.category == 'Clinic or hospital run by a charity or NGO'"}],"mark":{"type":"arc","radius":225,"fill":{"gradient":"linear","x1":0,"y1":0,"x2":1,"y2":0,"stops":[{"offset":0,"color":"#fff"},{"offset":0.0626,"color":"#fff"},{"offset":0.0626,"color":"#222"},{"offset":0.1274,"color":"#222"},{"offset":0.1274,"color":"#fff"},{"offset":0.3026,"color":"#fff"},{"offset":0.3026,"color":"#222"},{"offset":0.3674,"color":"#222"},{"offset":0.3674,"color":"#fff"},{"offset":0.5431,"color":"#fff"},{"offset":0.5431,"color":"#222"},{"offset":0.6079,"color":"#222"},{"offset":0.6079,"color":"#fff"},{"offset":0.7834,"color":"#fff"},{"offset":0.7834,"color":"#222"},{"offset":0.8482,"color":"#222"},{"offset":0.8482,"color":"#fff"},{"offset":1,"color":"#fff"}]}},"encoding":{"theta":{"field":"start","type":"quantitative","stack":null,"scale":{"domain":[0,100],"range":[0,6.283185307179586]}},"theta2":{"field":"end"}}},
{"data":{"name":"permanent"},"transform":[{"filter":"datum.category == 'Clinic or hospital run by a charity or NGO'"}],"mark":{"type":"arc","radius":225,"blend":"lighten","fill":{"gradient":"linear","x1":0,"y1":0,"x2":0,"y2":1,"stops":[{"offset":0,"color":"#fff"},{"offset":0.0246,"color":"#fff"},{"offset":0.0246,"color":"#000"},{"offset":0.0452,"color":"#000"},{"offset":0.0452,"color":"#fff"},{"offset":0.0957,"color":"#fff"},{"offset":0.0957,"color":"#000"},{"offset":0.1163,"color":"#000"},{"offset":0.1163,"color":"#fff"},{"offset":0.1668,"color":"#fff"},{"offset":0.1668,"color":"#000"},{"offset":0.1874,"color":"#000"},{"offset":0.1874,"color":"#fff"},{"offset":0.238,"color":"#fff"},{"offset":0.238,"color":"#000"},{"offset":0.2586,"color":"#000"},{"offset":0.2586,"color":"#fff"},{"offset":0.3091,"color":"#fff"},{"offset":0.3091,"color":"#000"},{"offset":0.3297,"color":"#000"},{"offset":0.3297,"color":"#fff"},{"offset":0.3802,"color":"#fff"},{"offset":0.3802,"color":"#000"},{"offset":0.4008,"color":"#000"},{"offset":0.4008,"color":"#fff"},{"offset":0.4514,"color":"#fff"},{"offset":0.4514,"color":"#000"},{"offset":0.472,"color":"#000"},{"offset":0.472,"color":"#fff"},{"offset":0.5225,"color":"#fff"},{"offset":0.5225,"color":"#000"},{"offset":0.5431,"color":"#000"},{"offset":0.5431,"color":"#fff"},{"offset":0.5936,"color":"#fff"},{"offset":0.5936,"color":"#000"},{"offset":0.6142,"color":"#000"},{"offset":0.6142,"color":"#fff"},{"offset":0.6648,"color":"#fff"},{"offset":0.6648,"color":"#000"},{"offset":0.6854,"color":"#000"},{"offset":0.6854,"color":"#fff"},{"offset":0.7359,"color":"#fff"},{"offset":0.7359,"color":"#000"},{"offset":0.7565,"color":"#000"},{"offset":0.7565,"color":"#fff"},{"offset":0.807,"color":"#fff"},{"offset":0.807,"color":"#000"},{"offset":0.8276,"color":"#000"},{"offset":0.8276,"color":"#fff"},{"offset":0.8782,"color":"#fff"},{"offset":0.8782,"color":"#000"},{"offset":0.8988,"color":"#000"},{"offset":0.8988,"color":"#fff"},{"offset":0.9493,"color":"#fff"},{"offset":0.9493,"color":"#000"},{"offset":0.9699,"color":"#000"},{"offset":0.9699,"color":"#fff"},{"offset":1,"color":"#fff"}]}},"encoding":{"theta":{"field":"start","type":"quantitative","stack":null,"scale":{"domain":[0,100],"range":[0,6.283185307179586]}},"theta2":{"field":"end"}}},
{"data":{"name":"permanent"},"mark":{"type":"arc","radius":225,"filled":false,"stroke":"#231f20","strokeWidth":2.5},"encoding":{"theta":{"field":"start","type":"quantitative","stack":null,"scale":{"domain":[0,100],"range":[0,6.283185307179586]}},"theta2":{"field":"end"}}},
{"data":{"name":"ticks"},"mark":{"type":"arc","radius":234,"radius2":220,"filled":false,"stroke":"#231f20","strokeWidth":2},"encoding":{"theta":{"field":"pct","type":"quantitative","stack":null,"scale":{"domain":[0,100],"range":[0,6.283185307179586]}},"theta2":{"field":"pct"}}},
{"data":{"name":"ticks"},"mark":{"type":"text","fontSize":30,"color":"#231f20","align":"center","baseline":"middle","dy":{"expr":"datum.pct == 0 ? 0 : datum.pct == 50 ? -4 : 3"},"radius":{"expr":"datum.pct == 0 ? 280 : 238 + min(19/abs(sin(datum.pct*PI/50)), 12/abs(cos(datum.pct*PI/50)))"}},"encoding":{"theta":{"field":"pct","type":"quantitative","stack":null,"scale":{"domain":[0,100],"range":[0,6.283185307179586]}},"text":{"field":"label"}}},
{"data":{"name":"unit"},"mark":{"type":"text","fontSize":30,"color":"#231f20","align":"center","baseline":"middle","dy":1,"radius":249},"encoding":{"theta":{"field":"pct","type":"quantitative","stack":null,"scale":{"domain":[0,100],"range":[0,6.283185307179586]}},"text":{"field":"label"}}}
]}
],"spacing":250,"bounds":"flush"},
{"vconcat":[
{"width":10,"height":1,"data":{"values":[{"s":1}]},"mark":{"type":"point","opacity":0}},
{"title":{"text":"Key","anchor":"start","frame":"group","offset":20},"spacing":10,"bounds":"flush","hconcat":[
{"width":53,"height":244,"data":{"name":"keyitems"},"encoding":{"y":{"field":"category","type":"nominal","sort":null,"axis":null,"scale":{"domain":["Family or friends","Clinic or hospital run by a charity or NGO","Government doctor, clinic or hospital","Private doctor, clinic or hospital"],"paddingInner":0.1875,"paddingOuter":0}}},
"layer":[
{"transform":[{"filter":"datum.category == 'Family or friends'"}],"mark":{"type":"rect","fill":{"gradient":"linear","x1":0,"y1":1,"x2":1,"y2":0,"stops":[{"offset":0,"color":"#fff"},{"offset":0.1587,"color":"#fff"},{"offset":0.1587,"color":"#222"},{"offset":0.1747,"color":"#222"},{"offset":0.1747,"color":"#fff"},{"offset":0.3253,"color":"#fff"},{"offset":0.3253,"color":"#222"},{"offset":0.3413,"color":"#222"},{"offset":0.3413,"color":"#fff"},{"offset":0.492,"color":"#fff"},{"offset":0.492,"color":"#222"},{"offset":0.508,"color":"#222"},{"offset":0.508,"color":"#fff"},{"offset":0.6587,"color":"#fff"},{"offset":0.6587,"color":"#222"},{"offset":0.6747,"color":"#222"},{"offset":0.6747,"color":"#fff"},{"offset":0.8253,"color":"#fff"},{"offset":0.8253,"color":"#222"},{"offset":0.8413,"color":"#222"},{"offset":0.8413,"color":"#fff"},{"offset":1,"color":"#fff"}]}}},
{"transform":[{"filter":"datum.category == 'Family or friends'"}],"mark":{"type":"rect","fill":{"gradient":"linear","x1":0,"y1":0,"x2":1,"y2":1,"stops":[{"offset":0,"color":"rgba(0,0,0,0)"},{"offset":0.1587,"color":"rgba(0,0,0,0)"},{"offset":0.1587,"color":"#222"},{"offset":0.1747,"color":"#222"},{"offset":0.1747,"color":"rgba(0,0,0,0)"},{"offset":0.3253,"color":"rgba(0,0,0,0)"},{"offset":0.3253,"color":"#222"},{"offset":0.3413,"color":"#222"},{"offset":0.3413,"color":"rgba(0,0,0,0)"},{"offset":0.492,"color":"rgba(0,0,0,0)"},{"offset":0.492,"color":"#222"},{"offset":0.508,"color":"#222"},{"offset":0.508,"color":"rgba(0,0,0,0)"},{"offset":0.6587,"color":"rgba(0,0,0,0)"},{"offset":0.6587,"color":"#222"},{"offset":0.6747,"color":"#222"},{"offset":0.6747,"color":"rgba(0,0,0,0)"},{"offset":0.8253,"color":"rgba(0,0,0,0)"},{"offset":0.8253,"color":"#222"},{"offset":0.8413,"color":"#222"},{"offset":0.8413,"color":"rgba(0,0,0,0)"},{"offset":1,"color":"rgba(0,0,0,0)"}]}}},
{"transform":[{"filter":"datum.category == 'Clinic or hospital run by a charity or NGO'"}],"mark":{"type":"rect","fill":{"gradient":"linear","x1":0,"y1":0,"x2":1,"y2":0,"stops":[{"offset":0,"color":"#fff"},{"offset":0.142,"color":"#fff"},{"offset":0.142,"color":"#222"},{"offset":0.238,"color":"#222"},{"offset":0.238,"color":"#fff"},{"offset":0.452,"color":"#fff"},{"offset":0.452,"color":"#222"},{"offset":0.548,"color":"#222"},{"offset":0.548,"color":"#fff"},{"offset":0.762,"color":"#fff"},{"offset":0.762,"color":"#222"},{"offset":0.858,"color":"#222"},{"offset":0.858,"color":"#fff"},{"offset":1,"color":"#fff"}]}}},
{"transform":[{"filter":"datum.category == 'Clinic or hospital run by a charity or NGO'"}],"mark":{"type":"rect","blend":"lighten","fill":{"gradient":"linear","x1":0,"y1":0,"x2":0,"y2":1,"stops":[{"offset":0,"color":"#fff"},{"offset":0.142,"color":"#fff"},{"offset":0.142,"color":"#000"},{"offset":0.238,"color":"#000"},{"offset":0.238,"color":"#fff"},{"offset":0.452,"color":"#fff"},{"offset":0.452,"color":"#000"},{"offset":0.548,"color":"#000"},{"offset":0.548,"color":"#fff"},{"offset":0.762,"color":"#fff"},{"offset":0.762,"color":"#000"},{"offset":0.858,"color":"#000"},{"offset":0.858,"color":"#fff"},{"offset":1,"color":"#fff"}]}}},
{"transform":[{"filter":"datum.category == 'Government doctor, clinic or hospital'"}],"mark":{"type":"rect","fill":{"gradient":"linear","x1":0,"y1":0,"x2":0,"y2":1,"stops":[{"offset":0,"color":"#fff"},{"offset":0.088,"color":"#fff"},{"offset":0.088,"color":"#222"},{"offset":0.112,"color":"#222"},{"offset":0.112,"color":"#fff"},{"offset":0.298,"color":"#fff"},{"offset":0.298,"color":"#222"},{"offset":0.322,"color":"#222"},{"offset":0.322,"color":"#fff"},{"offset":0.508,"color":"#fff"},{"offset":0.508,"color":"#222"},{"offset":0.532,"color":"#222"},{"offset":0.532,"color":"#fff"},{"offset":0.718,"color":"#fff"},{"offset":0.718,"color":"#222"},{"offset":0.742,"color":"#222"},{"offset":0.742,"color":"#fff"},{"offset":1,"color":"#fff"}]}}},
{"transform":[{"filter":"datum.category == 'Private doctor, clinic or hospital'"}],"mark":{"type":"rect","fill":{"gradient":"linear","x1":0,"y1":0,"x2":0,"y2":1,"stops":[{"offset":0,"color":"#000"},{"offset":0.25,"color":"#000"},{"offset":0.25,"color":"#fff"},{"offset":0.5,"color":"#fff"},{"offset":0.5,"color":"#000"},{"offset":0.75,"color":"#000"},{"offset":0.75,"color":"#fff"},{"offset":1,"color":"#fff"}]}}},
{"transform":[{"filter":"datum.category == 'Private doctor, clinic or hospital'"}],"mark":{"type":"rect","blend":"difference","fill":{"gradient":"linear","x1":0,"y1":0,"x2":1,"y2":0,"stops":[{"offset":0,"color":"#000"},{"offset":0.317,"color":"#000"},{"offset":0.317,"color":"#fff"},{"offset":0.51,"color":"#fff"},{"offset":0.51,"color":"#000"},{"offset":0.702,"color":"#000"},{"offset":0.702,"color":"#fff"},{"offset":1,"color":"#fff"}]}}},
{"transform":[{"filter":"datum.category == 'Private doctor, clinic or hospital'"}],"mark":{"type":"rect","blend":"lighten","fill":{"gradient":"linear","x1":0,"y1":0,"x2":1,"y2":0,"stops":[{"offset":0,"color":"#fff"},{"offset":0.2075,"color":"#fff"},{"offset":0.2075,"color":"#333"},{"offset":0.2345,"color":"#333"},{"offset":0.2345,"color":"#fff"},{"offset":0.3995,"color":"#fff"},{"offset":0.3995,"color":"#333"},{"offset":0.4265,"color":"#333"},{"offset":0.4265,"color":"#fff"},{"offset":0.5925,"color":"#fff"},{"offset":0.5925,"color":"#333"},{"offset":0.6195,"color":"#333"},{"offset":0.6195,"color":"#fff"},{"offset":0.7845,"color":"#fff"},{"offset":0.7845,"color":"#333"},{"offset":0.8115,"color":"#333"},{"offset":0.8115,"color":"#fff"},{"offset":1,"color":"#fff"}]}}},
{"mark":{"type":"rect","filled":false,"stroke":"#231f20","strokeWidth":2.5}}
]},
{"width":2,"height":244,"data":{"name":"keyitems"},"mark":{"type":"text","align":"left","baseline":"middle","fontSize":29,"color":"#231f20"},"encoding":{"y":{"field":"category","type":"nominal","sort":null,"axis":null,"scale":{"domain":["Family or friends","Clinic or hospital run by a charity or NGO","Government doctor, clinic or hospital","Private doctor, clinic or hospital"],"paddingInner":0.1875,"paddingOuter":0}},"text":{"field":"category"}}}
]}
],"spacing":444,"bounds":"flush"}
]
}
